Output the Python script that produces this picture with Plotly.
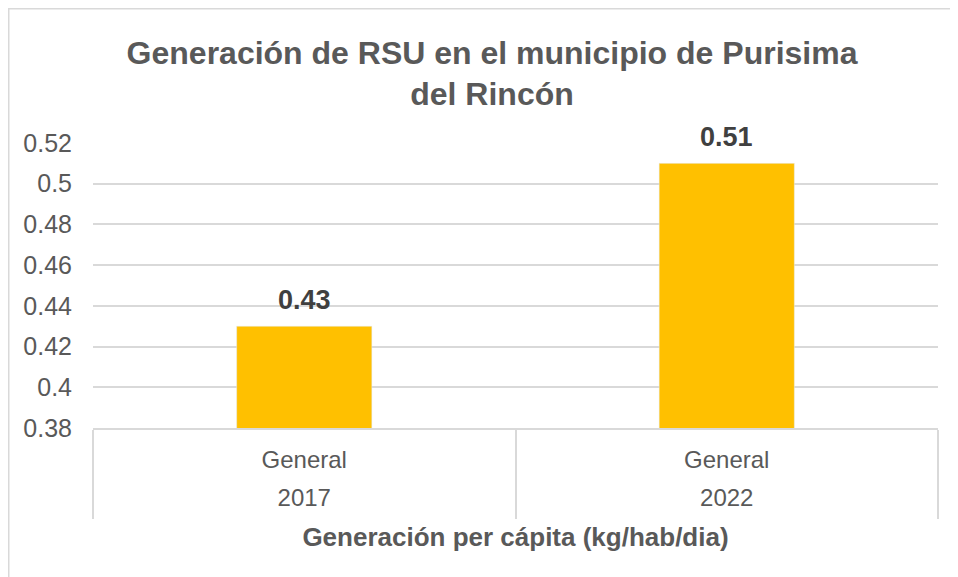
import plotly.graph_objects as go

years = ["2017", "2022"]
group_label = "General"
values = [0.43, 0.51]
value_labels = ["0.43", "0.51"]
y_ticks = [0.38, 0.40, 0.42, 0.44, 0.46, 0.48, 0.50, 0.52]
y_tick_text = ["0.38", "0.4", "0.42", "0.44", "0.46", "0.48", "0.5", "0.52"]

FONT = "Liberation Sans, Arial, sans-serif"
GRID = "#d9d9d9"
TXT = "#595959"

fig = go.Figure()
fig.add_trace(
    go.Bar(
        x=years,
        y=values,
        marker=dict(color="#FFC000", line=dict(width=0)),
        xaxis="x",
        yaxis="y",
    )
)
# helper (invisible) trace carrying the year level of the category axis
fig.add_trace(
    go.Bar(
        x=years,
        y=values,
        marker=dict(color="rgba(0,0,0,0)"),
        hoverinfo="skip",
        xaxis="x2",
        yaxis="y",
        showlegend=False,
    )
)

# value labels above the bars, placed through the data axes (category index)
for i, (v, lab) in enumerate(zip(values, value_labels)):
    fig.add_annotation(
        x=i,
        xref="x",
        yref="y",
        y=v,
        text=f"<b>{lab}</b>",
        showarrow=False,
        yanchor="bottom",
        yshift=9,
        font=dict(family=FONT, size=27, color="#404040"),
    )

fig.update_layout(
    width=950,
    height=569,
    margin=dict(l=85, r=20, t=135, b=149),
    paper_bgcolor="white",
    plot_bgcolor="white",
    bargap=0.68,
    barmode="overlay",
    showlegend=False,
    title=dict(
        text="<b>Generación de RSU en el municipio de Purisima<br>del Rincón</b>",
        x=0.5095,
        xanchor="center",
        y=0.902,
        yanchor="top",
        font=dict(family=FONT, size=32, color=TXT),
    ),
    font=dict(family=FONT, color=TXT),
    yaxis=dict(
        range=[0.38, 0.52],
        tickvals=y_ticks,
        ticktext=y_tick_text,
        showgrid=True,
        gridcolor=GRID,
        gridwidth=1.5,
        zeroline=False,
        showline=False,
        tickfont=dict(family=FONT, size=25, color=TXT),
        ticks="",
        ticklabelstandoff=20,
    ),
    xaxis=dict(
        type="category",
        range=[-0.5, 1.5],
        labelalias={y: group_label for y in years},
        showline=True,
        linecolor=GRID,
        linewidth=1.5,
        showgrid=False,
        tickson="boundaries",
        ticks="outside",
        ticklen=89,
        tickcolor=GRID,
        tickwidth=1.5,
        ticklabelstandoff=9,
        tickfont=dict(family=FONT, size=24, color=TXT),
    ),
    xaxis2=dict(
        type="category",
        overlaying="x",
        side="bottom",
        anchor="y",
        range=[-0.5, 1.5],
        showline=False,
        showgrid=False,
        ticks="",
        ticklabelstandoff=53,
        tickfont=dict(family=FONT, size=24, color=TXT),
        title=dict(
            text="<b>Generación per cápita (kg/hab/dia)</b>",
            font=dict(family=FONT, size=26, color=TXT),
            standoff=17,
        ),
    ),
)

# chart-area border (left and top edges visible in the reference)
fig.add_shape(
    type="rect",
    xref="paper",
    yref="paper",
    x0=-0.0997,
    x1=1.2,
    y0=-0.7,
    y1=1.4711,
    line=dict(color=GRID, width=1.5),
    fillcolor="rgba(0,0,0,0)",
    layer="below",
)

fig.write_html("out.html")
